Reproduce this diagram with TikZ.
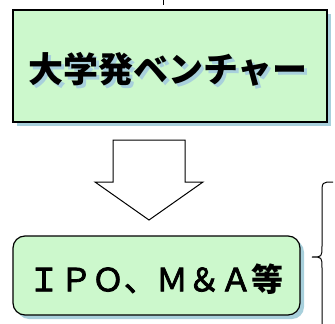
\documentclass[tikz,border=0pt]{standalone}
\usepackage{fontspec}
\newfontfamily\jp{Noto Sans CJK JP}
\newfontfamily\jpmed[FakeBold=2.5]{Noto Sans CJK JP}
\definecolor{boxgreen}{HTML}{CCF8CC}
\definecolor{shadowblue}{HTML}{A8D0DC}
\begin{document}
\begin{tikzpicture}[x=1pt,y=-1pt,
  greenbox/.style={draw=black,line width=1.2pt,fill=boxgreen,inner sep=0pt},
  shadowbox/.style={fill=shadowblue,draw=none}]
\useasboundingbox (0,0) rectangle (335,324);
% top stub line
\coordinate (stubA) at (163,0);
\coordinate (stubB) at (163,5);
\draw[line width=0.8pt] (stubA) -- (stubB);
% top box
\fill[shadowblue] (17,14) rectangle (331,126);
\node[greenbox,minimum width=314pt,minimum height=112pt] (top) at (170,66) {};
\node[text=shadowblue,font=\jp\bfseries\fontsize{35}{35}\selectfont] at (171,72) {大学発ベンチャー};
\node[font=\jp\bfseries\fontsize{35}{35}\selectfont] (toptext) at (168,69) {大学発ベンチャー};
% arrow
\coordinate (arrowtip) at (149,220);
\draw[line width=1pt,fill=white] (113,140) -- (185,140) -- (185,182) -- (203,182) -- (arrowtip) -- (95,182) -- (113,182) -- cycle;
% bottom box
\fill[shadowblue,rounded corners=12pt] (17,240) rectangle (304,319);
\node[greenbox,rounded corners=12pt,minimum width=287pt,minimum height=79pt] (bot) at (156.5,275.5) {};
\node[font=\jpmed\fontsize{32}{32}\selectfont] (bottext) at (156,279) {ＩＰＯ、Ｍ＆Ａ{\jp\bfseries 等}};
% brace
\coordinate (braceTop) at (333,182);
\coordinate (braceTip) at (312,257);
\coordinate (braceBot) at (322,330);
\draw[line width=1pt] (braceTop) .. controls (322,182) .. (322,194) -- (322,246) .. controls (322,257) .. (braceTip) .. controls (322,257) .. (322,268) -- (braceBot);
\end{tikzpicture}
\end{document}
